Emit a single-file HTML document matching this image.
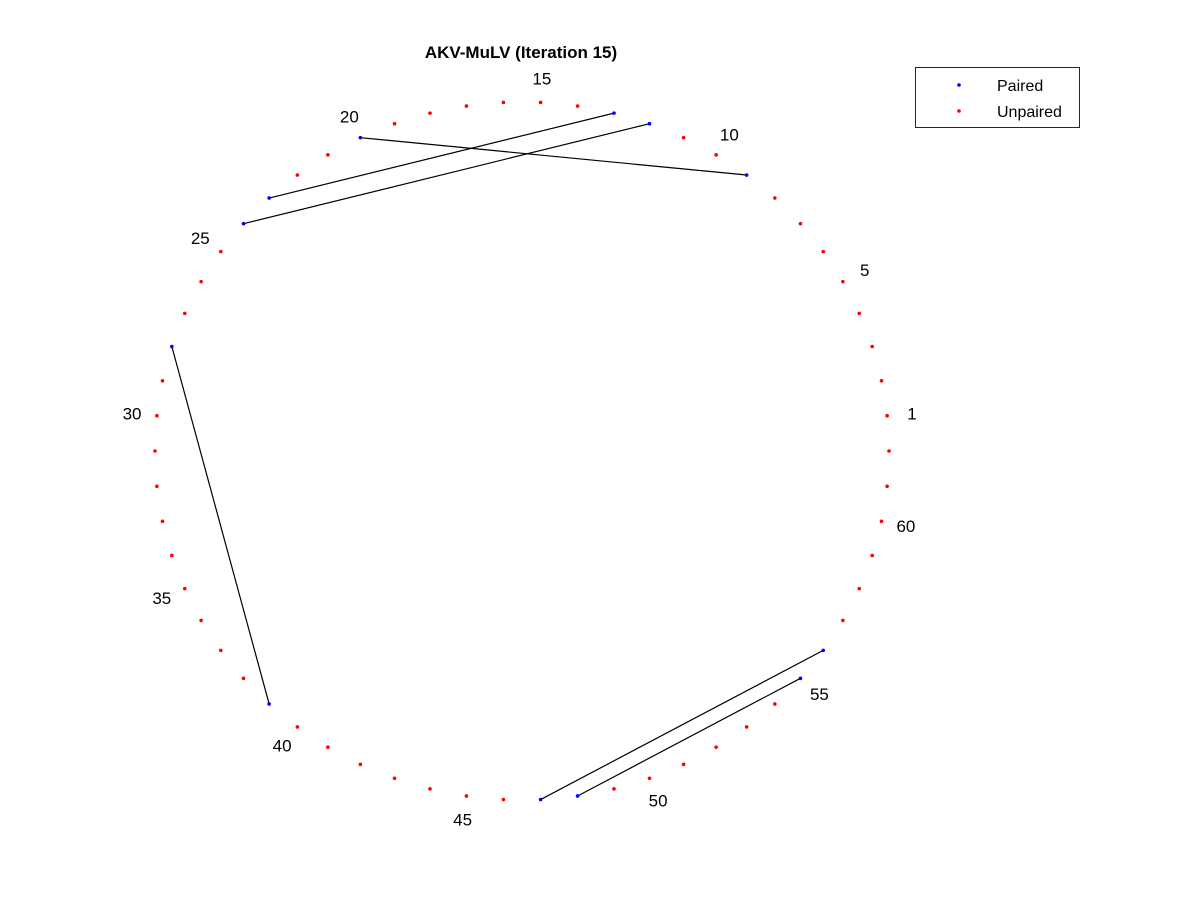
<!DOCTYPE html>
<html><head><meta charset="utf-8"><style>
body{margin:0;background:#fff}
svg{display:block;font-family:"Liberation Sans",Arial,sans-serif}
</style></head><body>
<svg id="chart" width="1200" height="900" viewBox="0 0 1200 900" xmlns="http://www.w3.org/2000/svg">
<rect width="1200" height="900" fill="#fff"/>
<text x="521" y="58" text-anchor="middle" font-size="17" font-weight="bold">AKV-MuLV (Iteration 15)</text>
<g id="lines"></g>
<g id="dots"></g>
<g id="labels"></g>
<g>
<rect x="915.5" y="67.5" width="164" height="60" fill="#fff" stroke="#262626" stroke-width="1"/>
<g><circle cx="959" cy="85" r="1.8" fill="#0000ff"/><text x="997" y="91" font-size="16">Paired</text></g>
<g><circle cx="959" cy="111" r="1.8" fill="#ff0000"/><text x="997" y="117" font-size="16">Unpaired</text></g>
</g>
</svg>
<script>
const N = 62;
const pairsA = [9, 12, 13, 28, 47, 48];
const pairsB = [20, 24, 23, 39, 56, 55];
const labelIdx = [1,5,10,15,20,25,30,35,40,45,50,55,60];
const cx=522, cy=451, rx=367, ry=349;
function pos(k,f){const a=k*2*Math.PI/N;return [cx+rx*f*Math.cos(a), cy-ry*f*Math.sin(a)];}
const ns="http://www.w3.org/2000/svg";
const paired=new Set(pairsA.concat(pairsB));
const L=document.getElementById('lines'),D=document.getElementById('dots'),T=document.getElementById('labels');
for(let i=0;i<pairsA.length;i++){
  const p=pos(pairsA[i],1),q=pos(pairsB[i],1);
  const ln=document.createElementNS(ns,'line');
  
  
  ln.setAttribute('x1',p[0]);ln.setAttribute('y1',p[1]);ln.setAttribute('x2',q[0]);ln.setAttribute('y2',q[1]);
  ln.setAttribute('stroke','#000');ln.setAttribute('stroke-width','1.2');
  L.appendChild(ln);
}
for(let k=1;k<=N;k++){
  const p=pos(k,1);
  const c=document.createElementNS(ns,'circle');
  
  
  c.setAttribute('cx',p[0]);c.setAttribute('cy',p[1]);c.setAttribute('r','1.8');
  c.setAttribute('fill',paired.has(k)?'#0000ff':'#ff0000');
  D.appendChild(c);
}
labelIdx.forEach(k=>{
  const p=pos(k,1.068);
  const t=document.createElementNS(ns,'text');
  
  
  t.setAttribute('x',p[0]);t.setAttribute('y',p[1]+6);
  t.setAttribute('text-anchor','middle');t.setAttribute('font-size','17');
  t.textContent=k;
  T.appendChild(t);
});
</script>
</body></html>
